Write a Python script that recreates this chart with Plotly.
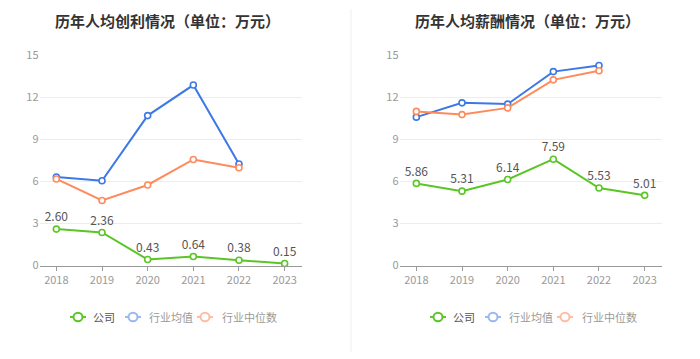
import plotly.graph_objects as go

years = ["2018", "2019", "2020", "2021", "2022", "2023"]
profit_company = [2.60, 2.36, 0.43, 0.64, 0.38, 0.15]
profit_avg = [6.32, 6.05, 10.7, 12.88, 7.25, None]
profit_median = [6.18, 4.64, 5.75, 7.57, 6.98, None]
salary_company = [5.86, 5.31, 6.14, 7.59, 5.53, 5.01]
salary_avg = [10.59, 11.61, 11.52, 13.84, 14.27, None]
salary_median = [11.0, 10.77, 11.25, 13.25, 13.9, None]
yticks = [0, 3, 6, 9, 12, 15]
names = ["公司", "行业均值", "行业中位数"]
titles = ["历年人均创利情况（单位：万元）", "历年人均薪酬情况（单位：万元）"]

GREEN = "#5ac626"
BLUE = "#3d78e6"
ORANGE = "#ff8a5c"
LEG_COLORS = [GREEN, "#99b7f2", "#ffbca3"]
LEG_TEXT = ["#555555", "#9a9a9a", "#9a9a9a"]
FONT = "Noto Sans CJK SC"
W, H = 700, 359

def px(x):
    return x / W

def py(y):
    return (H - y) / H

fig = go.Figure()

def add_series(xa, ya, comp, avg, med):
    for vals, col, txt in [(avg, BLUE, False), (med, ORANGE, False), (comp, GREEN, True)]:
        fig.add_trace(go.Scatter(
            x=years, y=vals, xaxis=xa, yaxis=ya, mode="lines+markers+text" if txt else "lines+markers",
            line=dict(color=col, width=2),
            marker=dict(symbol="circle", size=6, color="white", line=dict(color=col, width=1.6)),
            text=[f"{v:.2f}" for v in vals] if txt else None,
            textposition="top center", textfont=dict(color="#555", size=12, family=FONT),
            showlegend=False, hoverinfo="skip", cliponaxis=False))

add_series("x", "y", profit_company, profit_avg, profit_median)
add_series("x2", "y2", salary_company, salary_avg, salary_median)

ydom = [py(268.5), py(48.5)]
axis_common = dict(showgrid=False, showline=True, linecolor="#9a9a9a", linewidth=1,
                   ticks="outside", ticklen=4, tickcolor="#9a9a9a",
                   tickfont=dict(color="#999", size=11, family=FONT), type="category",
                   fixedrange=True)
yaxis_common = dict(range=[0, 15], tickvals=yticks, showgrid=True, gridcolor="#e9edf4",
                    zeroline=False, showline=False, ticks="", fixedrange=True,
                    tickfont=dict(color="#999", size=11, family=FONT))

shapes = [dict(type="line", xref="paper", yref="paper", x0=px(351), x1=px(351), y0=0, y1=1,
               line=dict(color="#efefef", width=1))]
annotations = []

# titles
for t, cx in zip(titles, [167, 527]):
    annotations.append(dict(text=f"<b>{t}</b>", x=px(cx), y=py(12), xref="paper", yref="paper",
                            showarrow=False, font=dict(size=15, color="#333", family=FONT),
                            xanchor="center", yanchor="middle"))

# legends (manual)
leg_y = 322.3
icon_x = [70, 125, 197]
text_x = [91, 147, 220]
for off in [0, 360]:
    for i in range(3):
        x0 = icon_x[i] + off
        c = LEG_COLORS[i]
        shapes.append(dict(type="line", xref="paper", yref="paper",
                           x0=px(x0), x1=px(x0 + 16), y0=py(leg_y), y1=py(leg_y),
                           line=dict(color=c, width=2)))
        shapes.append(dict(type="circle", xref="paper", yref="paper",
                           x0=px(x0 + 8 - 4.5), x1=px(x0 + 8 + 4.5),
                           y0=py(leg_y + 4.5), y1=py(leg_y - 4.5),
                           fillcolor="white", line=dict(color=c, width=2)))
        annotations.append(dict(text=names[i], x=px(text_x[i] + off), y=py(leg_y), xref="paper",
                                yref="paper", showarrow=False, xanchor="left", yanchor="middle",
                                font=dict(size=11, color=LEG_TEXT[i], family=FONT)))

fig.update_layout(
    width=W, height=H, margin=dict(l=0, r=0, t=0, b=0),
    paper_bgcolor="white", plot_bgcolor="white", showlegend=False,
    xaxis=dict(domain=[px(39.5), px(301.5)], anchor="y", **axis_common),
    yaxis=dict(domain=ydom, anchor="x", **yaxis_common),
    xaxis2=dict(domain=[px(399.5), px(661.5)], anchor="y2", **axis_common),
    yaxis2=dict(domain=ydom, anchor="x2", **yaxis_common),
    annotations=annotations,
    shapes=shapes,
)

fig.write_html("out.html", config={"displayModeBar": False},
               post_script="document.body.style.margin='0';document.body.style.overflow='hidden';")
